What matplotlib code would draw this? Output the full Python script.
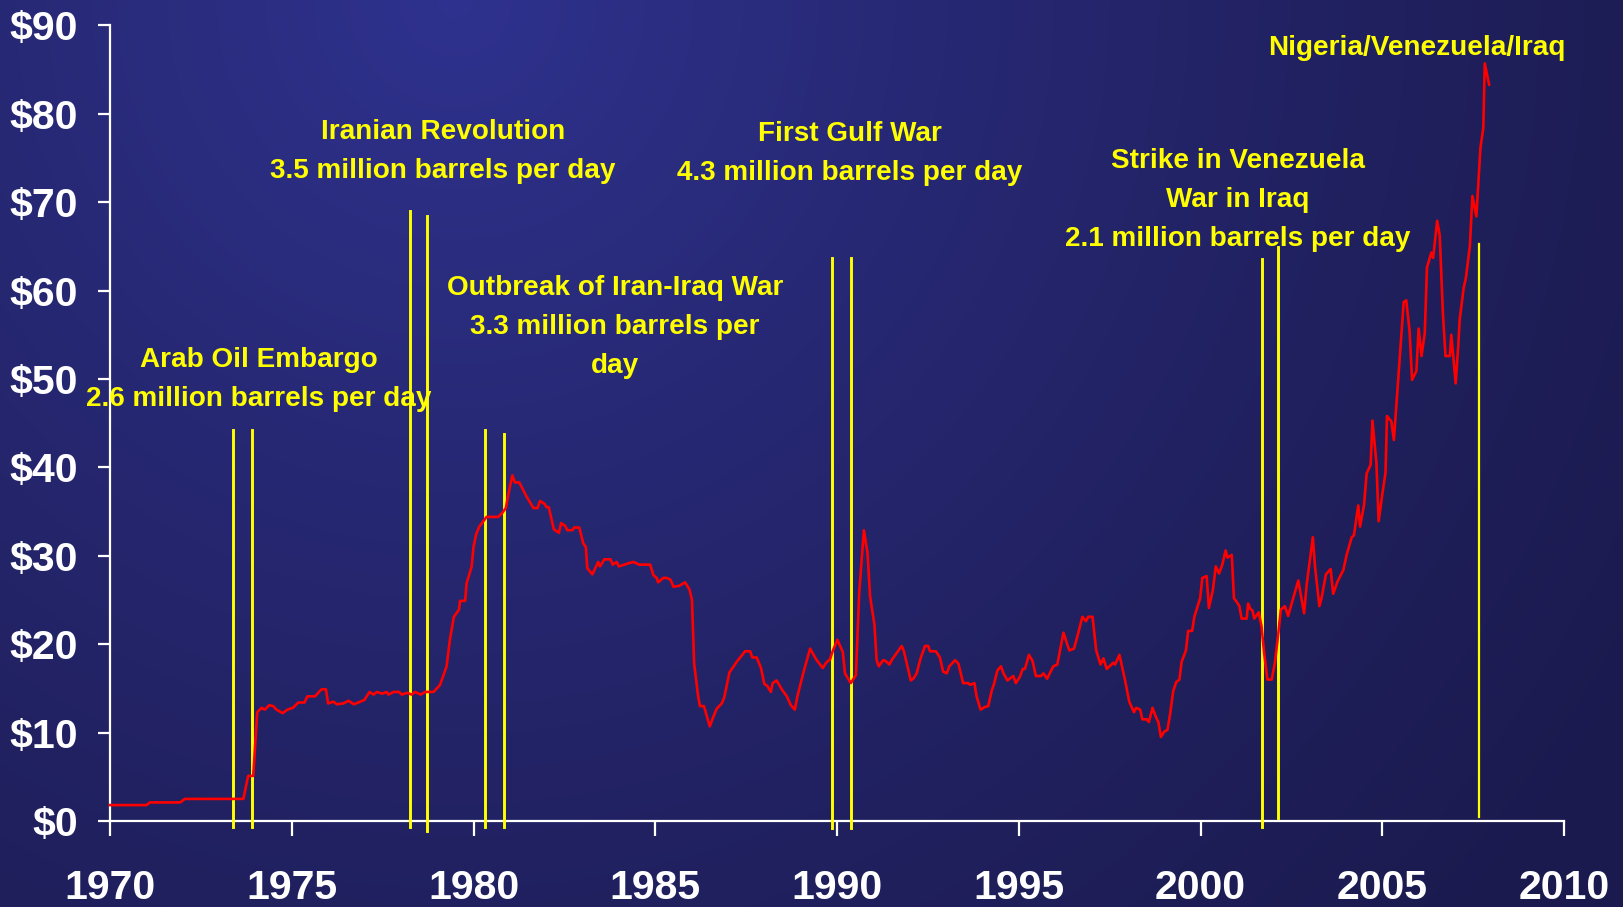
import numpy as np
import matplotlib
matplotlib.use("Agg")
import matplotlib.pyplot as plt

# ---------------- data ----------------
years = [1970.0, 1971.0, 1971.1, 1971.93, 1972.06, 1973.67, 1973.8, 1973.94, 1974.05,
         1974.17, 1974.26, 1974.38, 1974.49, 1974.58, 1974.75, 1974.88, 1975.03, 1975.18,
         1975.35, 1975.43, 1975.64, 1975.82, 1975.94, 1976.0, 1976.15, 1976.24, 1976.42,
         1976.56, 1976.71, 1976.88, 1977.0, 1977.14, 1977.25, 1977.34, 1977.49, 1977.61,
         1977.66, 1977.8, 1977.95, 1978.03, 1978.17, 1978.3, 1978.39, 1978.55, 1978.67,
         1978.9, 1979.08, 1979.26, 1979.35, 1979.46, 1979.6, 1979.63, 1979.77, 1979.81,
         1979.95, 1980.0, 1980.07, 1980.16, 1980.27, 1980.36, 1980.68, 1980.78, 1980.89,
         1980.96, 1981.07, 1981.14, 1981.26, 1981.46, 1981.65, 1981.76, 1981.83, 1981.95,
         1982.01, 1982.07, 1982.21, 1982.35, 1982.41, 1982.52, 1982.58, 1982.72, 1982.77,
         1982.91, 1983.02, 1983.09, 1983.13, 1983.27, 1983.43, 1983.48, 1983.6, 1983.77,
         1983.83, 1983.94, 1984.0, 1984.3, 1984.4, 1984.56, 1984.86, 1984.95, 1985.04,
         1985.08, 1985.22, 1985.31, 1985.42, 1985.5, 1985.66, 1985.82, 1985.94, 1986.01,
         1986.07, 1986.18, 1986.23, 1986.34, 1986.5, 1986.6, 1986.69, 1986.83, 1986.9,
         1987.04, 1987.24, 1987.47, 1987.61, 1987.67, 1987.79, 1987.91, 1988.0, 1988.08,
         1988.18, 1988.23, 1988.34, 1988.48, 1988.62, 1988.73, 1988.84, 1988.91, 1989.07,
         1989.26, 1989.44, 1989.61, 1989.7, 1989.81, 1989.88, 1990.01, 1990.16, 1990.22,
         1990.38, 1990.52, 1990.61, 1990.74, 1990.84, 1990.91, 1991.03, 1991.09, 1991.15,
         1991.27, 1991.34, 1991.44, 1991.52, 1991.78, 1991.84, 1992.03, 1992.1, 1992.19,
         1992.3, 1992.42, 1992.51, 1992.56, 1992.72, 1992.83, 1992.92, 1993.02, 1993.09,
         1993.25, 1993.34, 1993.47, 1993.61, 1993.66, 1993.78, 1993.84, 1993.95, 1994.07,
         1994.16, 1994.26, 1994.32, 1994.41, 1994.51, 1994.58, 1994.69, 1994.85, 1994.92,
         1995.03, 1995.11, 1995.17, 1995.28, 1995.38, 1995.47, 1995.61, 1995.68, 1995.78,
         1995.95, 1996.06, 1996.23, 1996.39, 1996.52, 1996.62, 1996.75, 1996.85, 1996.91,
         1997.03, 1997.13, 1997.25, 1997.33, 1997.42, 1997.6, 1997.65, 1997.77, 1997.92,
         1998.04, 1998.17, 1998.23, 1998.34, 1998.4, 1998.52, 1998.58, 1998.68, 1998.77,
         1998.84, 1998.91, 1999.0, 1999.09, 1999.16, 1999.25, 1999.33, 1999.42, 1999.48,
         1999.6, 1999.66, 1999.77, 1999.83, 1999.99, 2000.05, 2000.17, 2000.23, 2000.34,
         2000.42, 2000.51, 2000.6, 2000.69, 2000.74, 2000.86, 2000.92, 2001.01, 2001.07,
         2001.13, 2001.27, 2001.31, 2001.37, 2001.43, 2001.48, 2001.6, 2001.68, 2001.75,
         2001.84, 2001.96, 2002.05, 2002.14, 2002.21, 2002.32, 2002.41, 2002.69, 2002.85,
         2002.92, 2003.09, 2003.15, 2003.27, 2003.33, 2003.45, 2003.58, 2003.65, 2003.77,
         2003.93, 2004.02, 2004.16, 2004.22, 2004.34, 2004.39, 2004.5, 2004.57, 2004.68,
         2004.73, 2004.84, 2004.9, 2005.02, 2005.09, 2005.13, 2005.25, 2005.32, 2005.37,
         2005.5, 2005.59, 2005.66, 2005.75, 2005.82, 2005.94, 2006.0, 2006.08, 2006.17,
         2006.23, 2006.35, 2006.4, 2006.51, 2006.58, 2006.67, 2006.74, 2006.86, 2006.9,
         2007.02, 2007.09, 2007.13, 2007.24, 2007.3, 2007.41, 2007.48, 2007.59, 2007.7,
         2007.78, 2007.82, 2007.94]
prices = [1.8, 1.8, 2.1, 2.1, 2.5, 2.5, 5.1, 5.1, 12.3,
          12.8, 12.6, 13.1, 13.0, 12.6, 12.2, 12.6, 12.8, 13.4,
          13.4, 14.1, 14.1, 14.9, 14.9, 13.3, 13.5, 13.2, 13.3,
          13.6, 13.2, 13.5, 13.7, 14.6, 14.3, 14.6, 14.4, 14.6,
          14.3, 14.6, 14.6, 14.3, 14.5, 14.3, 14.6, 14.3, 14.6,
          14.6, 15.4, 17.5, 20.5, 23.1, 23.9, 24.9, 24.9, 26.9,
          28.8, 31.0, 32.4, 33.3, 33.9, 34.4, 34.4, 34.8, 35.4,
          37.0, 39.1, 38.3, 38.3, 36.7, 35.4, 35.4, 36.2, 35.9,
          35.5, 35.5, 33.0, 32.6, 33.7, 33.4, 32.9, 32.9, 33.2,
          33.2, 31.4, 31.0, 28.6, 27.9, 29.3, 28.8, 29.6, 29.6,
          29.0, 29.3, 28.8, 29.2, 29.3, 29.0, 29.0, 27.8, 27.5,
          27.0, 27.5, 27.5, 27.3, 26.5, 26.6, 27.0, 26.2, 25.0,
          17.8, 14.1, 13.0, 13.0, 10.7, 11.8, 12.7, 13.3, 14.0,
          16.8, 18.0, 19.2, 19.2, 18.5, 18.5, 17.3, 15.5, 15.3,
          14.6, 15.6, 15.9, 14.9, 14.1, 13.1, 12.6, 14.1, 16.7,
          19.5, 18.2, 17.3, 17.9, 18.3, 19.2, 20.5, 19.1, 16.7,
          15.6, 16.5, 25.8, 32.9, 30.3, 25.4, 22.2, 18.2, 17.5,
          18.2, 18.1, 17.7, 18.3, 19.8, 19.2, 15.9, 16.1, 16.7,
          18.4, 19.8, 19.8, 19.2, 19.2, 18.5, 16.9, 16.7, 17.5,
          18.2, 17.8, 15.6, 15.6, 15.4, 15.6, 14.1, 12.6, 12.9,
          13.0, 14.8, 15.5, 17.0, 17.5, 16.7, 15.9, 16.4, 15.6,
          16.3, 17.2, 17.2, 18.8, 18.1, 16.4, 16.4, 16.7, 16.1,
          17.5, 17.7, 21.3, 19.3, 19.5, 21.0, 23.1, 22.6, 23.1,
          23.1, 19.3, 17.7, 18.4, 17.2, 17.9, 17.7, 18.8, 16.0,
          13.5, 12.3, 12.8, 12.6, 11.5, 11.5, 11.2, 12.8, 11.8,
          11.2, 9.5, 10.1, 10.3, 12.0, 14.7, 15.7, 16.0, 18.0,
          19.3, 21.5, 21.5, 23.1, 25.2, 27.5, 27.7, 24.1, 26.1,
          28.8, 28.0, 29.0, 30.6, 29.8, 30.1, 25.2, 24.7, 24.3,
          22.9, 22.9, 24.6, 24.0, 23.8, 22.9, 23.6, 22.0, 19.0,
          16.0, 16.0, 18.0, 21.2, 23.9, 24.3, 23.2, 27.2, 23.5,
          26.7, 32.1, 28.8, 24.3, 25.2, 27.9, 28.5, 25.7, 27.1,
          28.4, 30.1, 32.1, 32.3, 35.7, 33.3, 35.8, 39.3, 40.3,
          45.3, 40.5, 33.9, 37.5, 39.4, 45.8, 45.2, 43.1, 46.0,
          53.7, 58.7, 58.9, 55.5, 49.9, 50.9, 55.7, 52.6, 55.2,
          62.6, 64.3, 63.7, 67.9, 66.3, 57.3, 52.6, 52.6, 55.0,
          49.5, 53.7, 56.7, 60.3, 61.4, 65.0, 70.7, 68.4, 76.1,
          78.4, 85.7, 83.3]

event_x = [1973.39, 1973.91, 1978.26, 1978.72, 1980.32, 1980.83,
           1989.86, 1990.38, 2001.69, 2002.13, 2007.66]
event_top = [44.2, 44.2, 69.0, 68.4, 44.2, 43.8, 63.7, 63.7, 63.6, 64.9, 65.3]
event_bottom = [-0.7, -0.7, -0.7, -1.1, -0.7, -0.7, -0.8, -0.8, -0.7, 0.3, 0.45]

x_ticks = [1970, 1975, 1980, 1985, 1990, 1995, 2000, 2005, 2010]
x_labels = ["1970", "1975", "1980", "1985", "1990", "1995", "2000", "2005", "2010"]
y_ticks = [0, 10, 20, 30, 40, 50, 60, 70, 80, 90]
y_labels = ["$0", "$10", "$20", "$30", "$40", "$50", "$60", "$70", "$80", "$90"]

ann_lines = [
    ["Arab Oil Embargo", "2.6 million barrels per day"],
    ["Iranian Revolution", "3.5 million barrels per day"],
    ["Outbreak of Iran-Iraq War", "3.3 million barrels per", "day"],
    ["First Gulf War", "4.3 million barrels per day"],
    ["Strike in Venezuela", "War in Iraq", "2.1 million barrels per day"],
    ["Nigeria/Venezuela/Iraq"],
]

# ---------------- figure ----------------
W, H = 1624, 907
fig = plt.figure(figsize=(W / 100, H / 100), dpi=100)

# gradient background
bg = fig.add_axes([0, 0, 1, 1])
yy, xx = np.mgrid[0:H, 0:W]
d = np.sqrt((xx - 0.28 * W) ** 2 + (yy - 0.0) ** 2)
t = np.clip(1 - d / 1450.0, 0, 1) ** 1.3
light = np.array([47, 50, 142]) / 255.0
dark = np.array([27, 26, 78]) / 255.0
img = dark[None, None, :] + (light - dark)[None, None, :] * t[:, :, None]
bg.imshow(img, aspect="auto", extent=[0, 1, 0, 1], origin="upper")
bg.set_axis_off()

# pixel mapping helpers (figure pixels)
x0_px, x1_px = 110, 1564
y0_px, y90_px = 821, 25.4
ax = fig.add_axes([x0_px / W, (H - y0_px) / H, (x1_px - x0_px) / W, (y0_px - y90_px) / H])
ax.patch.set_alpha(0)
ax.set_xlim(1970, 2010)
ax.set_ylim(0, 90)

for s in ["top", "right"]:
    ax.spines[s].set_visible(False)
for s in ["left", "bottom"]:
    ax.spines[s].set_color("white")
    ax.spines[s].set_linewidth(1.6)

font = "Liberation Sans"
ax.set_xticks(x_ticks)
ax.set_xticklabels(x_labels, fontsize=29.5, fontweight="bold", color="white", family=font)
ax.set_yticks(y_ticks)
ax.set_yticklabels(y_labels, fontsize=29.5, fontweight="bold", color="white", family=font)
ax.tick_params(axis="x", direction="out", length=10.8, width=1.6, color="white", pad=24)
ax.tick_params(axis="y", direction="out", length=9, width=1.6, color="white", pad=14)

# event lines
for i, (ex, et, eb) in enumerate(zip(event_x, event_top, event_bottom)):
    lw = 1.6 if i == len(event_x) - 1 else 2.1
    ax.plot([ex, ex], [eb, et], color="#FFFF00", lw=lw, clip_on=False, zorder=3)

# price line
ax.plot(years, prices, color="#FF0000", lw=1.9, zorder=4, clip_on=False)

# annotations: (center x px, first baseline px)
def px2data(px, py):
    return (1970 + (px - x0_px) / (x1_px - x0_px) * 40, (y0_px - py) / (y0_px - y90_px) * 90)

ann_pos = [(259, 367), (443, 139), (615, 295), (850, 141), (1238, 168), (1417, 55)]
step = 38.8
for lines, (cx, by) in zip(ann_lines, ann_pos):
    for k, line in enumerate(lines):
        dx, dy = px2data(cx, by + k * step)
        ax.text(dx, dy, line, ha="center", va="baseline", color="#FFFF00",
                fontsize=20.1, fontweight="bold", family=font, zorder=5, clip_on=False)

fig.savefig("out.png", dpi=100)
